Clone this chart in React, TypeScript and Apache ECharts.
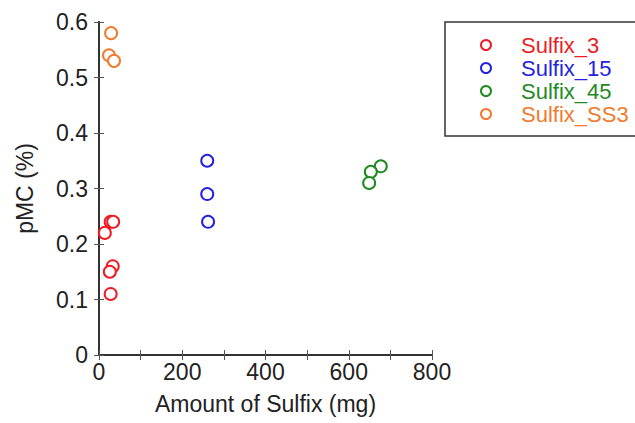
import React, { useEffect, useRef } from "react";
import * as echarts from "echarts";

const seriesNames = ["Sulfix_3", "Sulfix_15", "Sulfix_45", "Sulfix_SS3"];
const seriesColors = ["#ee1c24", "#2424e0", "#1f8a1f", "#f27a2c"];
const sulfix3X = [28, 34, 14, 33, 26, 28];
const sulfix3Y = [0.24, 0.24, 0.22, 0.16, 0.15, 0.11];
const sulfix15X = [260, 260, 262];
const sulfix15Y = [0.35, 0.29, 0.24];
const sulfix45X = [677, 653, 649];
const sulfix45Y = [0.34, 0.33, 0.31];
const sulfixSS3X = [29, 24, 36];
const sulfixSS3Y = [0.58, 0.54, 0.53];
const xTicks = [0, 200, 400, 600, 800];

const xs = [sulfix3X, sulfix15X, sulfix45X, sulfixSS3X];
const ys = [sulfix3Y, sulfix15Y, sulfix45Y, sulfixSS3Y];

const FONT = "Liberation Sans, Arial, Helvetica, sans-serif";

export default function App() {
  const ref = useRef<HTMLDivElement>(null);
  useEffect(() => {
    if (!ref.current) return;
    const chart = echarts.init(ref.current, undefined, { renderer: "svg" });
    const axisLine = { show: true, lineStyle: { color: "#333", width: 2 } };
    const tick = { show: true, inside: true, length: 5, lineStyle: { color: "#555", width: 1 } };
    chart.setOption({
      animation: false,
      backgroundColor: "#fff",
      grid: { left: 99, top: 22, width: 333, height: 333, containLabel: false },
      legend: {
        orient: "vertical",
        left: 445,
        top: 22,
        padding: [12, 80, 11, 35],
        itemWidth: 10,
        itemHeight: 10,
        itemGap: 1,
        borderColor: "#333",
        borderWidth: 1.5,
        data: seriesNames.map((n, i) => ({
          name: n,
          icon: "emptyCircle",
          textStyle: { color: seriesColors[i] },
        })),
        textStyle: {
          fontFamily: FONT,
          fontSize: 22,
          lineHeight: 22,
          padding: [0, 0, 0, 25],
        },
      },
      xAxis: [
        {
          type: "value",
          min: 0,
          max: 800,
          interval: 100,
          position: "bottom",
          name: "Amount of Sulfix (mg)",
          nameLocation: "middle",
          nameGap: 37,
          nameTextStyle: { fontFamily: FONT, fontSize: 23, color: "#222" },
          axisLine,
          axisTick: tick,
          splitLine: { show: false },
          axisLabel: {
            fontFamily: FONT,
            fontSize: 23,
            color: "#222",
            margin: 5,
            formatter: (v: number) => (xTicks.includes(v) ? String(v) : ""),
          },
        },
        {
          type: "value",
          min: 0,
          max: 800,
          interval: 100,
          position: "top",
          axisLine,
          axisTick: tick,
          axisLabel: { show: false },
          splitLine: { show: false },
        },
      ],
      yAxis: [
        {
          type: "value",
          min: 0,
          max: 0.6,
          interval: 0.1,
          position: "left",
          name: "pMC (%)",
          nameLocation: "middle",
          nameGap: 63,
          nameTextStyle: { fontFamily: FONT, fontSize: 23, color: "#222" },
          axisLine,
          axisTick: tick,
          splitLine: { show: false },
          axisLabel: {
            fontFamily: FONT,
            fontSize: 23,
            color: "#222",
            margin: 11,
            formatter: (v: number) => (Math.round(v * 10) / 10).toString(),
          },
        },
        {
          type: "value",
          min: 0,
          max: 0.6,
          interval: 0.1,
          position: "right",
          axisLine,
          axisTick: tick,
          axisLabel: { show: false },
          splitLine: { show: false },
        },
      ],
      series: seriesNames.map((n, i) => ({
        name: n,
        type: "scatter",
        symbol: "emptyCircle",
        symbolSize: 12,
        itemStyle: { color: seriesColors[i], borderColor: seriesColors[i], borderWidth: 1.4, opacity: 1 },
        data: xs[i].map((x, j) => [x, ys[i][j]]),
      })),
    });
    return () => chart.dispose();
  }, []);
  return <div ref={ref} style={{ width: 635, height: 423, position: "absolute", left: 0, top: 0 }} />;
}
